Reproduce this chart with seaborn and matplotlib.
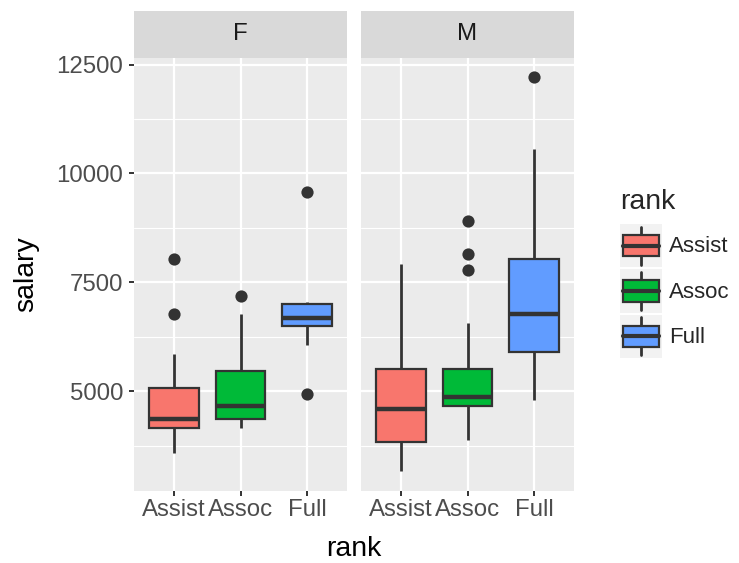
import matplotlib
matplotlib.use("Agg")
import matplotlib.pyplot as plt
import seaborn as sns
import pandas as pd
import numpy as np
from matplotlib.patches import Rectangle, Patch
from matplotlib.lines import Line2D
from matplotlib.legend_handler import HandlerBase
from matplotlib.ticker import FixedLocator, StrMethodFormatter

# ---------------- data ----------------
ranks = ["Assist", "Assoc", "Full"]
sexes = ["F", "M"]
colors = ["#F8766D", "#00BA38", "#619CFF"]

# five-number summaries: lower whisker, Q1, median, Q3, upper whisker
f_assist = [3594, 4159, 4374, 5085, 5865]
f_assoc = [4159, 4374, 4664, 5459, 6766]
f_full = [6055, 6491, 6682, 6996, 7049]
m_assist = [3165, 3837, 4603, 5505, 7913]
m_assoc = [3876, 4656, 4869, 5521, 6567]
m_full = [4809, 5902, 6782, 8044, 10551]

# outliers
f_assist_out = [8044, 6782]
f_assoc_out = [7179]
f_full_out = [9565, 4931]
m_assist_out = []
m_assoc_out = [8900, 8150, 7776]
m_full_out = [12210]

y_major = [5000, 7500, 10000, 12500]
y_minor = [3750, 6250, 8750, 11250]

box_groups = {("F", "Assist"): f_assist, ("F", "Assoc"): f_assoc, ("F", "Full"): f_full,
              ("M", "Assist"): m_assist, ("M", "Assoc"): m_assoc, ("M", "Full"): m_full}
out_groups = {("F", "Assist"): f_assist_out, ("F", "Assoc"): f_assoc_out, ("F", "Full"): f_full_out,
              ("M", "Assist"): m_assist_out, ("M", "Assoc"): m_assoc_out, ("M", "Full"): m_full_out}

box_df = pd.DataFrame([(s, r, v) for (s, r), vals in box_groups.items() for v in vals],
                      columns=["sex", "rank", "salary"])
out_df = pd.DataFrame([(s, r, v) for (s, r), vals in out_groups.items() for v in vals],
                      columns=["sex", "rank", "salary"])

# ---------------- style ----------------
sns.set_theme(style="darkgrid")
plt.rcParams["font.family"] = ["Liberation Sans", "DejaVu Sans"]

W, H = 739, 563
fig = plt.figure(figsize=(W / 100, H / 100), dpi=100)
fig.patch.set_facecolor("white")

def fr(l, t, r, b):
    return [l / W, 1 - b / H, (r - l) / W, (b - t) / H]

panel_top, panel_bot = 57.5, 491
strip_top = 11
panels = {"F": (134, 347), "M": (361, 574)}

all_vals = pd.concat([box_df["salary"], out_df["salary"]])
lo, hi = all_vals.min(), all_vals.max()
pad = 0.05 * (hi - lo)
ylim = (lo - pad, hi + pad)

LINE = "#333333"
tick_fs = 17.3
LW = 1.6

for i, s in enumerate(sexes):
    l, r = panels[s]
    ax = fig.add_axes(fr(l, panel_top, r, panel_bot))
    ax.set_facecolor("#EBEBEB")
    sub = box_df[box_df["sex"] == s]
    sns.boxplot(data=sub, x="rank", y="salary", hue="rank", order=ranks, hue_order=ranks,
                palette=colors, saturation=1, width=0.75, dodge=False,
                linecolor=LINE, linewidth=LW, fliersize=0, showcaps=False,
                whiskerprops={"linewidth": 2.0},
                medianprops={"linewidth": 3.2}, legend=False, ax=ax)
    osub = out_df[out_df["sex"] == s]
    sns.stripplot(data=osub, x="rank", y="salary", order=ranks, jitter=False,
                  color=LINE, size=8.8, linewidth=0, ax=ax, zorder=5)
    ax.set_xlim(-0.6, 2.6)
    ax.set_ylim(*ylim)
    ax.yaxis.set_major_locator(FixedLocator(y_major))
    ax.yaxis.set_minor_locator(FixedLocator(y_minor))
    ax.yaxis.set_major_formatter(StrMethodFormatter("{x:.0f}"))
    ax.grid(False)
    ax.grid(which="major", color="white", linewidth=1.6)
    ax.grid(which="minor", axis="y", color="white", linewidth=0.8)
    ax.set_axisbelow(True)
    for sp in ax.spines.values():
        sp.set_visible(False)
    ax.tick_params(which="major", axis="both", colors=LINE, labelcolor="#4D4D4D",
                   length=3.6, width=1.4, labelsize=tick_fs, direction="out",
                   left=True, bottom=True)
    ax.tick_params(axis="y", pad=4.0)
    ax.tick_params(axis="x", pad=2.5)
    ax.tick_params(which="minor", length=0)
    ax.set_xlabel("")
    ax.set_ylabel("")
    if i == 1:
        ax.tick_params(axis="y", left=False, labelleft=False)
    # facet strip
    sax = fig.add_axes(fr(l, strip_top, r, panel_top))
    sax.set_facecolor("#D9D9D9")
    sax.set_xticks([]); sax.set_yticks([])
    sax.grid(False)
    for sp in sax.spines.values():
        sp.set_visible(False)
    sax.text(0.5, 0.5, s, ha="center", va="center", fontsize=tick_fs, color="#1A1A1A",
             transform=sax.transAxes)

# axis titles
fig.text(354 / W, 1 - 556 / H, "rank", ha="center", va="baseline", fontsize=20.5, color="black")
fig.text(26 / W, 1 - 274.5 / H, "salary", ha="center", va="center", rotation=90,
         fontsize=20.5, color="black")

# legend with boxplot-like keys
class BoxKeyHandler(HandlerBase):
    def create_artists(self, legend, orig_handle, xdescent, ydescent, width, height, fontsize, trans):
        x0, y0 = -xdescent, -ydescent
        arts = []
        arts.append(Rectangle((x0, y0), width, height, facecolor="#F2F2F2", edgecolor="none",
                              transform=trans))
        cx = x0 + width / 2
        arts.append(Line2D([cx, cx], [y0 + 0.06 * height, y0 + 0.94 * height], color=LINE,
                           linewidth=2.0, transform=trans))
        arts.append(Rectangle((x0 + 0.08 * width, y0 + 0.25 * height), 0.84 * width, 0.5 * height,
                              facecolor=orig_handle.get_facecolor(), edgecolor=LINE,
                              linewidth=LW, transform=trans))
        arts.append(Line2D([x0 + 0.08 * width, x0 + 0.92 * width], [y0 + 0.5 * height] * 2,
                           color=LINE, linewidth=3.0, transform=trans))
        return arts

handles = [Patch(facecolor=c, label=r) for c, r in zip(colors, ranks)]
leg = fig.legend(handles=handles, labels=ranks, title="rank",
                 handler_map={Patch: BoxKeyHandler()},
                 loc="upper left", bbox_to_anchor=(620 / W, 1 - 189 / H),
                 frameon=False, fontsize=16, title_fontsize=20.5,
                 handlelength=1.9, handleheight=2.61, labelspacing=0.1,
                 handletextpad=0.32, borderpad=0, borderaxespad=0, alignment="left")
leg._legend_box.sep = 6.5

fig.savefig("out.png", dpi=100, facecolor="white")
